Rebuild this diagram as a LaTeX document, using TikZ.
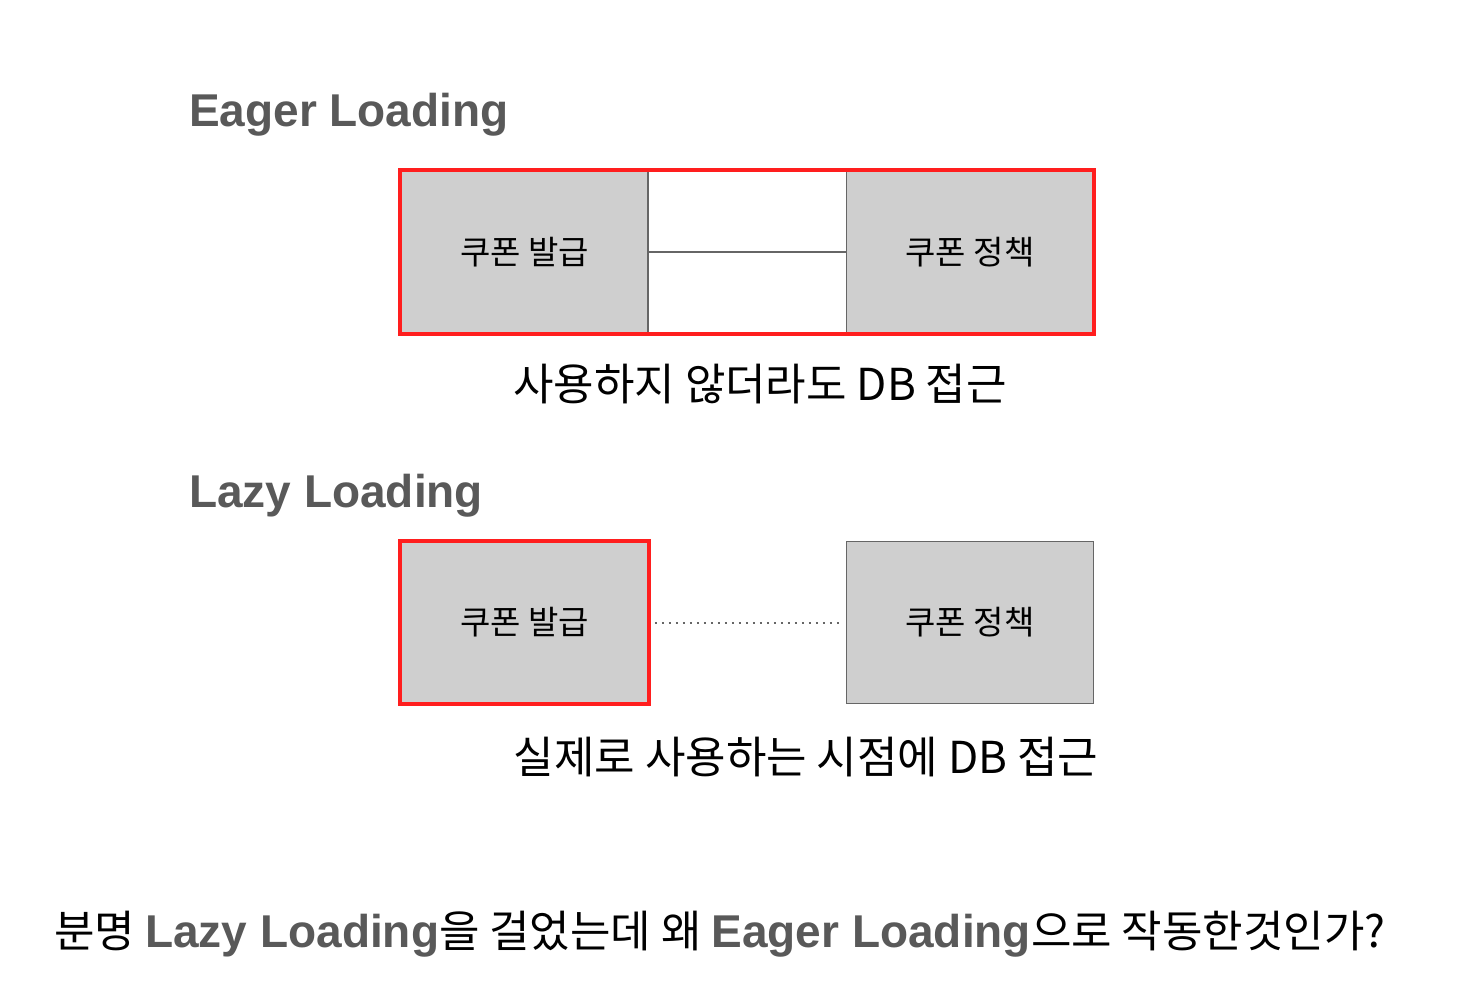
\documentclass[tikz,border=0pt]{standalone}
\usepackage{fontspec}
\setmainfont{Liberation Sans}
\newfontfamily\kr{Noto Sans CJK KR}
\usetikzlibrary{positioning}
\definecolor{titlegray}{RGB}{89,89,89}
\definecolor{boxfill}{RGB}{207,207,207}
\definecolor{boxline}{RGB}{102,102,102}
\definecolor{hilite}{RGB}{255,30,30}
\newcommand{\enbold}[1]{{\rmfamily\color{titlegray}\bfseries\fontsize{46}{54}\selectfont #1}}

\tikzset{
    entity/.style={draw=boxline, fill=boxfill, line width=1.5pt, inner sep=0pt,
        minimum width=247pt, minimum height=162pt, font=\kr\fontsize{33}{38}\selectfont},
    heading/.style={anchor=base west, inner sep=0pt, text=titlegray,
        font=\bfseries\fontsize{46}{54}\selectfont},
    caption/.style={anchor=base, inner sep=0pt, font=\kr\fontsize{44}{50}\selectfont},
    frame/.style={draw=hilite, line width=4pt},
}

\begin{document}
\begin{tikzpicture}[x=1pt, y=-1pt]
    \useasboundingbox[fill=white] (0,0) rectangle (1476,1008);

    % eager loading
    \node[heading] (eagertitle) at (189,127) {Eager Loading};
    \node[entity] (eagerissue) at (524.5,252) {쿠폰 발급};
    \node[entity, right=197pt of eagerissue] (eagerpolicy) {쿠폰 정책};
    \draw[boxline, line width=1.5pt] (eagerissue.east) -- (eagerpolicy.west);
    \draw[frame] (eagerissue.north west) rectangle (eagerpolicy.south east);
    \node[caption] (eagernote) at (760,400) {사용하지 않더라도 DB 접근};

    % lazy loading
    \node[heading] (lazytitle) at (189,507) {Lazy Loading};
    \node[entity, below=207pt of eagerissue] (lazyissue) {쿠폰 발급};
    \node[entity, right=197pt of lazyissue] (lazypolicy) {쿠폰 정책};
    \draw[boxline, line width=2pt, dash pattern=on 2pt off 5pt,
        shorten <=6pt, shorten >=5pt] (lazyissue.east) -- (lazypolicy.west);
    \draw[frame] (lazyissue.north west) rectangle (lazyissue.south east);
    \node[caption] (lazynote) at (806,773) {실제로 사용하는 시점에 DB 접근};

    % question
    \node[caption] (question) at (720,947)
        {분명 \enbold{Lazy Loading}을 걸었는데 왜 \enbold{Eager Loading}으로 작동한것인가?};
\end{tikzpicture}
\end{document}
